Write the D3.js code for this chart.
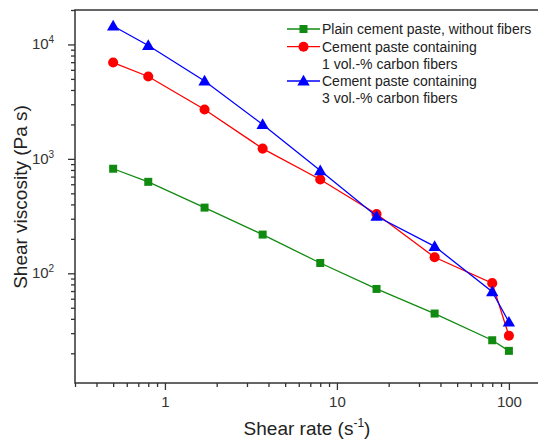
<!DOCTYPE html>
<html>
<head>
<meta charset="utf-8">
<script src="https://cdn.jsdelivr.net/npm/d3@7"></script>
<style>
  body { margin: 0; background: #fff; }
  svg { display: block; font-family: "Liberation Sans", Arial, sans-serif; }
</style>
</head>
<body>
<div id="chart"></div>
<script>
// Data
const shearRate = [0.5, 0.8, 1.7, 3.7, 8, 17, 37, 80, 100];
const plainPaste = [820, 630, 375, 218, 123, 73, 44.5, 26, 21];
const carbon1 = [6950, 5250, 2700, 1230, 660, 330, 138, 82, 28.5];
const carbon3 = [14500, 9800, 4800, 2000, 790, 315, 172, 69, 37.5];

const legendLabels = [
  ["Plain cement paste, without fibers"],
  ["Cement paste containing", "1 vol.-% carbon fibers"],
  ["Cement paste containing", "3 vol.-% carbon fibers"]
];
const xTickLabels = [1, 10, 100];
const yTickLabels = [100, 1000, 10000];

const WIDTH = 538, HEIGHT = 439;
const margin = { top: 10, left: 75, right: -6, bottom: 56 };
const width = WIDTH - margin.left - margin.right;
const height = HEIGHT - margin.top - margin.bottom;

const x = d3.scaleLog().domain([0.3, 160]).range([0, width]);
const y = d3.scaleLog().domain([11, 20000]).range([height, 0]);

// minor tick positions (2..9 in every decade)
function minorTicks(domain) {
  const out = [];
  for (let e = -2; e <= 5; e++) {
    for (let m = 2; m <= 9; m++) {
      const v = m * Math.pow(10, e);
      if (v >= domain[0] && v <= domain[1]) out.push(v);
    }
  }
  return out;
}

const svg = d3.select("#chart").append("svg")
  .attr("width", WIDTH)
  .attr("height", HEIGHT);

const g = svg.append("g")
  .attr("transform", "translate(" + margin.left + "," + margin.top + ")");

const axisColor = "#333";

// frame
g.append("rect")
  .attr("x", 0).attr("y", 0)
  .attr("width", width).attr("height", height)
  .attr("fill", "none")
  .attr("stroke", axisColor)
  .attr("stroke-width", 1.5);

// x axis: minor, then major with labels
const xMinor = g.append("g")
  .attr("transform", "translate(0," + height + ")")
  .call(d3.axisBottom(x).tickValues(minorTicks(x.domain())).tickSize(4).tickFormat(""));
const xMajor = g.append("g")
  .attr("transform", "translate(0," + height + ")")
  .call(d3.axisBottom(x).tickValues(xTickLabels).tickSize(7).tickPadding(6)
    .tickFormat(d3.format("d")));

// y axis
const yMinor = g.append("g")
  .call(d3.axisLeft(y).tickValues(minorTicks(y.domain())).tickSize(4).tickFormat(""));
const yMajor = g.append("g")
  .call(d3.axisLeft(y).tickValues(yTickLabels).tickSize(7).tickFormat(""));

[xMinor, xMajor, yMinor, yMajor].forEach(function (a) {
  a.select(".domain").remove();
  a.selectAll("line").attr("stroke", axisColor).attr("stroke-width", 1.3);
});
xMajor.selectAll("text")
  .attr("font-size", 15)
  .attr("fill", "#333");

// y tick labels as 10 with superscript exponent
yTickLabels.forEach(function (v) {
  const t = g.append("text")
    .attr("x", -32)
    .attr("y", y(v) + 5)
    .attr("text-anchor", "middle")
    .attr("font-size", 15)
    .attr("fill", "#333");
  t.append("tspan").text("10");
  t.append("tspan")
    .attr("dy", -6)
    .attr("font-size", 10)
    .text(Math.round(Math.log10(v)));
});

// axis titles
const xTitle = svg.append("text")
  .attr("x", 307)
  .attr("y", 435)
  .attr("text-anchor", "middle")
  .attr("font-size", 19)
  .attr("fill", "#222");
xTitle.append("tspan").text("Shear rate (s");
xTitle.append("tspan").attr("dy", -8).attr("font-size", 12).text("-1");
xTitle.append("tspan").attr("dy", 8).text(")");

svg.append("text")
  .attr("transform", "translate(27,197) rotate(-90)")
  .attr("text-anchor", "middle")
  .attr("font-size", 19)
  .attr("fill", "#222")
  .text("Shear viscosity (Pa s)");

// series
const series = [
  { values: plainPaste, color: "#118a11", shape: d3.symbolSquare, size: 64 },
  { values: carbon1, color: "#ff0000", shape: d3.symbolCircle, size: 80 },
  { values: carbon3, color: "#0000ff", shape: d3.symbolTriangle, size: 66 }
];

const line = d3.line()
  .x(function (d) { return x(d[0]); })
  .y(function (d) { return y(d[1]); });

series.forEach(function (s) {
  const pts = shearRate.map(function (r, i) { return [r, s.values[i]]; });
  g.append("path")
    .attr("d", line(pts))
    .attr("fill", "none")
    .attr("stroke", s.color)
    .attr("stroke-width", 1.3);
  g.selectAll(null)
    .data(pts)
    .enter().append("path")
    .attr("transform", function (d) {
      const dy = s.shape === d3.symbolTriangle ? 1 : 0;
      return "translate(" + x(d[0]) + "," + (y(d[1]) + dy) + ")";
    })
    .attr("d", d3.symbol().type(s.shape).size(s.size))
    .attr("fill", s.color);
});

// legend
const legend = svg.append("g").attr("transform", "translate(287,0)");
const rowY = [29, 46.7, 81];
const lineGap = 17.3;
series.forEach(function (s, i) {
  const ry = rowY[i];
  legend.append("line")
    .attr("x1", 0).attr("x2", 33)
    .attr("y1", ry).attr("y2", ry)
    .attr("stroke", s.color)
    .attr("stroke-width", 1.3);
  legend.append("path")
    .attr("transform", "translate(16.5," + (ry + (s.shape === d3.symbolTriangle ? 1 : 0)) + ")")
    .attr("d", d3.symbol().type(s.shape).size(s.size))
    .attr("fill", s.color);
  legendLabels[i].forEach(function (txt, j) {
    legend.append("text")
      .attr("x", 35)
      .attr("y", ry + j * lineGap + 5)
      .attr("font-size", 14)
      .attr("fill", "#222")
      .text(txt);
  });
});
</script>
</body>
</html>
